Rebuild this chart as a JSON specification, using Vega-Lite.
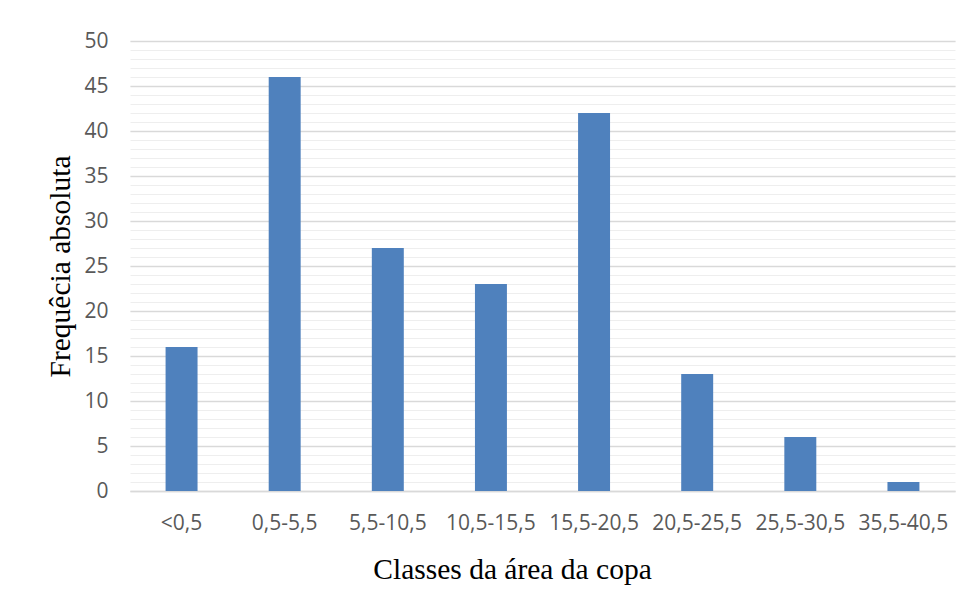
{
  "$schema": "https://vega.github.io/schema/vega-lite/v6.json",
  "width": 825,
  "height": 450,
  "autosize": {"type": "none"},
  "padding": {"left": 130, "top": 41, "right": 17, "bottom": 112},
  "background": "white",
  "config": {"view": {"stroke": null}},
  "data": {"values": [
    {"classe": "<0,5", "freq": 16},
    {"classe": "0,5-5,5", "freq": 46},
    {"classe": "5,5-10,5", "freq": 27},
    {"classe": "10,5-15,5", "freq": 23},
    {"classe": "15,5-20,5", "freq": 42},
    {"classe": "20,5-25,5", "freq": 13},
    {"classe": "25,5-30,5", "freq": 6},
    {"classe": "35,5-40,5", "freq": 1}
  ]},
  "layer": [
    {
      "mark": {"type": "bar", "color": "#4F81BD", "opacity": 0},
      "encoding": {
        "x": {"field": "classe", "type": "nominal", "sort": null,
          "scale": {"paddingInner": 0.69, "paddingOuter": 0.345},
          "axis": {"title": "Classes da área da copa", "titleX": 382, "titleAlign": "center", "labelAngle": 0, "labelFont": "Open Sans", "labelFontSize": 21, "labelColor": "#595959", "labelPadding": 21, "ticks": false, "domainColor": "#d9d9d9", "domainWidth": 1.5, "titleFont": "Liberation Serif", "titleFontSize": 29.5, "titleFontWeight": "normal", "titleColor": "#000000", "titlePadding": 22}},
        "y": {"field": "freq", "type": "quantitative", "scale": {"domain": [0, 50]},
          "axis": {"orient": "right", "values": [0,1,2,3,4,5,6,7,8,9,10,11,12,13,14,15,16,17,18,19,20,21,22,23,24,25,26,27,28,29,30,31,32,33,34,35,36,37,38,39,40,41,42,43,44,45,46,47,48,49,50],
            "grid": true, "gridColor": "#eeeeee", "gridWidth": 1, "labels": false, "ticks": false, "domain": false, "title": null}}
      }
    },
    {
      "mark": {"type": "bar", "color": "#4F81BD"},
      "encoding": {
        "x": {"field": "classe", "type": "nominal", "sort": null,
          "scale": {"paddingInner": 0.69, "paddingOuter": 0.345}},
        "y": {"field": "freq", "type": "quantitative", "scale": {"domain": [0, 50]},
          "axis": {"orient": "left", "values": [0,5,10,15,20,25,30,35,40,45,50], "grid": true, "gridColor": "#d9d9d9", "gridWidth": 1.5, "ticks": false, "domain": false, "labelFont": "Open Sans", "labelFontSize": 21, "labelColor": "#595959", "labelPadding": 22, "title": "Frequêcia absoluta", "titleFont": "Liberation Serif", "titleFontSize": 29.5, "titleFontWeight": "normal", "titleColor": "#000000", "titlePadding": 8}}
      }
    }
  ],
  "resolve": {"axis": {"y": "independent"}}
}
